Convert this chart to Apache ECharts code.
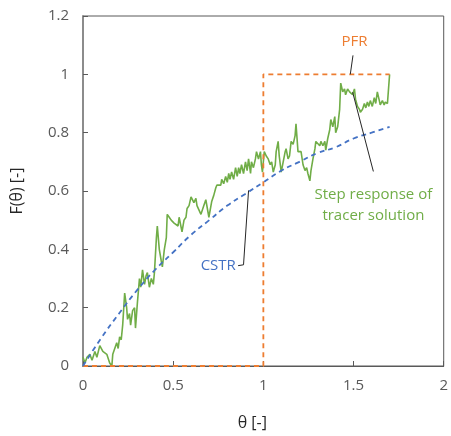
<!DOCTYPE html>
<html>
<head>
<meta charset="utf-8">
<script src="https://cdn.jsdelivr.net/npm/echarts@6/dist/echarts.min.js"></script>
<style>
	html, body {
		margin: 0;
		padding: 0;
		background: #ffffff;
	}
	#main {
		width: 451px;
		height: 436px;
	}
</style>
</head>
<body>
<div id="main"></div>
<script>
	// tracer step response
	var stepTheta = [0, 0.011, 0.022, 0.038, 0.05, 0.066, 0.077, 0.093, 0.11, 0.132, 0.148, 0.16, 0.165, 0.187, 0.195,
		0.203, 0.212, 0.22, 0.231, 0.242, 0.247, 0.258, 0.264, 0.275, 0.286, 0.291, 0.302, 0.313, 0.32, 0.33, 0.341,
		0.35, 0.357, 0.368, 0.379, 0.39, 0.396, 0.407, 0.412, 0.423, 0.434, 0.44, 0.451, 0.462, 0.467, 0.478, 0.489,
		0.495, 0.505, 0.516, 0.527, 0.533, 0.544, 0.549, 0.56, 0.571, 0.577, 0.588, 0.599, 0.604, 0.615, 0.626, 0.632,
		0.654, 0.659, 0.67, 0.681, 0.687, 0.698, 0.714, 0.725, 0.736, 0.742, 0.753, 0.764, 0.769, 0.78, 0.791, 0.8,
		0.808, 0.815, 0.824, 0.835, 0.846, 0.855, 0.863, 0.87, 0.879, 0.89, 0.901, 0.91, 0.918, 0.929, 0.934, 0.945,
		0.956, 0.962, 0.973, 0.984, 0.989, 0.995, 1.005, 1.016, 1.027, 1.038, 1.046, 1.055, 1.066, 1.071, 1.082, 1.088,
		1.099, 1.11, 1.121, 1.126, 1.137, 1.145, 1.154, 1.165, 1.176, 1.181, 1.192, 1.2, 1.209, 1.22, 1.231, 1.24,
		1.247, 1.258, 1.264, 1.275, 1.286, 1.291, 1.3, 1.313, 1.319, 1.33, 1.341, 1.346, 1.357, 1.368, 1.374, 1.385,
		1.396, 1.401, 1.412, 1.423, 1.429, 1.44, 1.45, 1.456, 1.467, 1.478, 1.487, 1.495, 1.505, 1.511, 1.522, 1.533,
		1.538, 1.55, 1.56, 1.568, 1.577, 1.585, 1.593, 1.604, 1.615, 1.623, 1.632, 1.643, 1.648, 1.66, 1.67, 1.676,
		1.688, 1.7];
	var stepF = [0.03, 0.01, 0.03, 0.04, 0.02, 0.05, 0.03, 0.07, 0.05, 0.04, 0.01, 0.0, 0.04, 0.08, 0.06,
		0.10, 0.09, 0.14, 0.25, 0.20, 0.16, 0.18, 0.14, 0.19, 0.20, 0.13, 0.22, 0.30, 0.27, 0.33, 0.28,
		0.31, 0.32, 0.27, 0.30, 0.28, 0.32, 0.44, 0.48, 0.40, 0.36, 0.34, 0.40, 0.44, 0.52, 0.51, 0.50,
		0.50, 0.49, 0.49, 0.48, 0.51, 0.51, 0.46, 0.50, 0.51, 0.54, 0.55, 0.58, 0.585, 0.56, 0.575, 0.55,
		0.52, 0.53, 0.55, 0.57, 0.575, 0.51, 0.565, 0.585, 0.61, 0.62, 0.625, 0.62, 0.64, 0.625, 0.65, 0.63,
		0.66, 0.64, 0.665, 0.64, 0.68, 0.65, 0.68, 0.66, 0.69, 0.66, 0.70, 0.67, 0.71, 0.66, 0.70, 0.68,
		0.71, 0.735, 0.71, 0.735, 0.69, 0.665, 0.735, 0.72, 0.71, 0.69, 0.70, 0.665, 0.69, 0.735, 0.77, 0.72,
		0.665, 0.70, 0.735, 0.745, 0.71, 0.72, 0.77, 0.76, 0.79, 0.83, 0.735, 0.74, 0.735, 0.69, 0.67, 0.68,
		0.66, 0.635, 0.67, 0.71, 0.745, 0.77, 0.765, 0.755, 0.77, 0.755, 0.77, 0.74, 0.78, 0.81, 0.845, 0.82,
		0.855, 0.80, 0.82, 0.88, 0.97, 0.94, 0.95, 0.93, 0.95, 0.94, 0.945, 0.93, 0.95, 0.915, 0.89, 0.88,
		0.87, 0.88, 0.90, 0.885, 0.905, 0.89, 0.91, 0.89, 0.92, 0.90, 0.94, 0.91, 0.895, 0.91, 0.895, 0.905,
		0.90, 1.0];

	// ideal reactors
	var cstrTheta = [0, 0.1, 0.2, 0.3, 0.4, 0.5, 0.6, 0.7, 0.8, 0.9, 1.0, 1.1, 1.2, 1.3, 1.4, 1.5, 1.6, 1.7];
	var cstrF = [0, 0.095, 0.18, 0.26, 0.33, 0.39, 0.45, 0.50, 0.55, 0.59, 0.63, 0.67, 0.70, 0.73, 0.75, 0.78, 0.80, 0.82];
	var pfrTheta = [0, 1, 1, 1.7];
	var pfrF = [0, 0, 1, 1];

	var xTicks = [0, 0.5, 1, 1.5, 2];
	var yTicks = [0, 0.2, 0.4, 0.6, 0.8, 1, 1.2];

	var GREEN = '#70ad47', BLUE = '#4472c4', ORANGE = '#ed7d31', GREY = '#595959';
	var FONT = '"Open Sans", "Noto Sans", sans-serif';

	function pairs(xs, ys) {
		return xs.map(function (x, i) { return [x, ys[i]]; });
	}

	var chart = echarts.init(document.getElementById('main'), null, { renderer: 'canvas' });
	chart.setOption({
		animation: false,
		backgroundColor: '#ffffff',
		grid: {
			left: 83, top: 16, right: 4, bottom: 67,
			show: true, borderColor: GREY, borderWidth: 1
		},
		xAxis: {
			type: 'value',
			min: xTicks[0], max: xTicks[xTicks.length - 1], interval: 0.5,
			name: 'θ [-]', nameLocation: 'middle', nameGap: 49,
			nameTextStyle: { color: '#262626', fontSize: 16, fontFamily: FONT, padding: [0, 22, 0, 0] },
			axisLine: { onZero: false, lineStyle: { color: GREY, width: 1 } },
			axisTick: { inside: true, length: 5, lineStyle: { color: GREY } },
			axisLabel: { color: GREY, fontSize: 15, fontFamily: FONT, margin: 12 },
			splitLine: { show: false }
		},
		yAxis: {
			type: 'value',
			min: yTicks[0], max: yTicks[yTicks.length - 1], interval: 0.2,
			name: 'F(θ) [-]', nameLocation: 'middle', nameGap: 58,
			nameTextStyle: { color: '#262626', fontSize: 16, fontFamily: FONT },
			axisLine: { show: true, lineStyle: { color: '#8c8c8c', width: 2 } },
			axisTick: { show: true, inside: true, length: 5, lineStyle: { color: GREY } },
			axisLabel: { color: GREY, fontSize: 15, fontFamily: FONT, margin: 14 },
			splitLine: { show: false }
		},
		series: [
			{
				name: 'PFR', type: 'line', showSymbol: false, z: 3,
				data: pairs(pfrTheta, pfrF),
				lineStyle: { color: ORANGE, width: 1.8, type: [5, 4] }
			},
			{
				name: 'CSTR', type: 'line', showSymbol: false, smooth: true, z: 3,
				data: pairs(cstrTheta, cstrF),
				lineStyle: { color: BLUE, width: 1.8, type: [5, 4] }
			},
			{
				name: 'Step response', type: 'line', showSymbol: false, z: 2,
				data: pairs(stepTheta, stepF),
				lineStyle: { color: GREEN, width: 1.6 }
			}
		]
	});

	// annotations, placed in data coordinates
	var labels = [
		{ text: 'PFR', at: [1.505, 1.112], color: ORANGE },
		{ text: 'CSTR', at: [0.75, 0.343], color: BLUE },
		{ text: 'Step response of\ntracer solution', at: [1.61, 0.55], color: GREEN }
	];
	var leaders = [
		[[1.497, 1.065], [1.482, 1.0]],
		[[0.86, 0.344], [0.89, 0.347], [0.918, 0.602]],
		[[1.61, 0.667], [1.495, 0.939]]
	];

	var graphic = [];
	labels.forEach(function (l) {
		var p = chart.convertToPixel({ gridIndex: 0 }, l.at);
		graphic.push({
			type: 'text', x: p[0], y: p[1], z: 10,
			style: {
				text: l.text, fill: l.color, font: '15px ' + FONT,
				align: 'center', verticalAlign: 'middle', lineHeight: 21
			}
		});
	});
	leaders.forEach(function (pts) {
		graphic.push({
			type: 'polyline', z: 10,
			shape: { points: pts.map(function (d) { return chart.convertToPixel({ gridIndex: 0 }, d); }) },
			style: { stroke: '#262626', lineWidth: 1, fill: null }
		});
	});
	chart.setOption({ graphic: graphic });
</script>
</body>
</html>
